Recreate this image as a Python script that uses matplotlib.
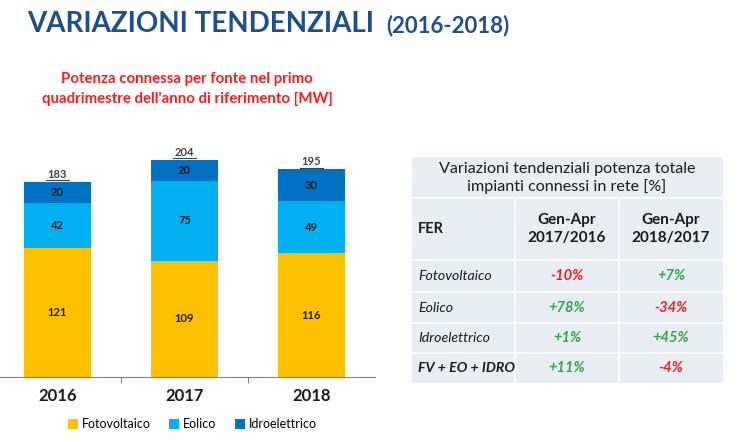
import matplotlib.pyplot as plt
from matplotlib.patches import Rectangle

plt.rcParams["font.family"] = ["Lato", "DejaVu Sans"]

years = ["2016", "2017", "2018"]
fotovoltaico = [121, 109, 116]
eolico = [42, 75, 49]
idroelettrico = [20, 20, 30]
totals = [183, 204, 195]

series_names = ["Fotovoltaico", "Eolico", "Idroelettrico"]
series_colors = ["#FFC000", "#00B0F0", "#0070C0"]

table_rows = ["Fotovoltaico", "Eolico", "Idroelettrico", "FV + EO + IDRO"]
var_2017_2016 = ["-10%", "+78%", "+1%", "+11%"]
var_2018_2017 = ["+7%", "-34%", "+45%", "-4%"]

W, H = 740, 442
fig = plt.figure(figsize=(W / 100, H / 100), dpi=100)
fig.patch.set_facecolor("white")


def fx(px):
    return px / W


def fy(py):
    return 1 - py / H


# titles
fig.text(fx(27), fy(24), "VARIAZIONI TENDENZIALI", fontsize=20, fontweight="bold",
         color="#1F4E8C", va="center", ha="left")
fig.text(fx(386), fy(26), "(2016-2018)", fontsize=16, fontweight="bold",
         color="#1F4E8C", va="center", ha="left")
fig.text(fx(187), fy(89), "Potenza connessa per fonte nel primo\nquadrimestre dell'anno di riferimento [MW]",
         fontsize=10.8, fontweight="bold", color="#FF1A1A", ha="center", va="center",
         linespacing=1.45)

# bar chart
ax = fig.add_axes([fx(-6), fy(377), fx(381), fy(140) - fy(377)])
x = list(range(len(years)))
bottom = [0, 0, 0]
for name, vals, col in zip(series_names, [fotovoltaico, eolico, idroelettrico], series_colors):
    ax.bar(x, vals, width=0.52, bottom=bottom, color=col, label=name)
    for i, v in enumerate(vals):
        ax.text(x[i], bottom[i] + v / 2, str(v), ha="center", va="center",
                fontsize=8, fontweight="bold", color="#1a1a1a")
    bottom = [b + v for b, v in zip(bottom, vals)]
for i, t in enumerate(totals):
    ax.text(x[i], t + 2, str(t), ha="center", va="bottom", fontsize=8,
            fontweight="bold", color="#404040")
    ax.plot([x[i] - 0.09, x[i] + 0.09], [t + 1.6, t + 1.6], color="#404040", lw=0.8)

ax.set_xlim(-0.5, 2.5)
ax.set_ylim(0, 222.5)
for s in ["top", "right", "left"]:
    ax.spines[s].set_visible(False)
ax.spines["bottom"].set_color("#808080")
ax.set_yticks([])
ax.set_xticks([0.5, 1.5], minor=False)
ax.set_xticklabels([])
ax.tick_params(axis="x", length=4, color="#808080", direction="out")
for i, y in enumerate(years):
    ax.text(x[i], -18, y, ha="center", va="center", fontsize=12, fontweight="bold",
            color="#1a1a1a")
ax.legend(loc="center", bbox_to_anchor=(fx(192) / fx(381) + 0.016, -0.2),
          ncol=3, frameon=False, fontsize=9, handlelength=0.8, handleheight=0.8,
          handletextpad=0.3, columnspacing=1.5)

# table
tab = fig.add_axes([0, 0, 1, 1])
tab.set_xlim(0, W)
tab.set_ylim(H, 0)
tab.axis("off")
bg = "#E9EDF4"
tab.add_patch(Rectangle((412, 157), 311, 226, facecolor=bg, edgecolor="none"))
for yy in [198, 260, 292, 323, 353]:
    tab.plot([412, 723], [yy, yy], color="white", lw=1.2)
for xx in [515, 619]:
    tab.plot([xx, xx], [198, 383], color="white", lw=1.2)

tab.text(567, 178, "Variazioni tendenziali potenza totale\nimpianti connessi in rete [%]",
         ha="center", va="center", fontsize=11.6, color="#1a1a1a", linespacing=1.3)
tab.text(418, 229, "FER", ha="left", va="center", fontsize=10.5, fontweight="bold",
         color="#1a1a1a")
tab.text(567, 229, "Gen-Apr\n2017/2016", ha="center", va="center", fontsize=11,
         fontweight="bold", color="#1a1a1a", linespacing=1.3)
tab.text(671, 229, "Gen-Apr\n2018/2017", ha="center", va="center", fontsize=11,
         fontweight="bold", color="#1a1a1a", linespacing=1.3)

row_centers = [276, 307.5, 338, 368]
for i, (name, a, b) in enumerate(zip(table_rows, var_2017_2016, var_2018_2017)):
    last = i == len(table_rows) - 1
    tab.text(418, row_centers[i], name, ha="left", va="center", fontsize=10.2,
             style="italic", fontweight="bold" if last else "normal", color="#1a1a1a")
    for cx, val in [(567, a), (671, b)]:
        col = "#FF1A1A" if val.startswith("-") else "#2CA646"
        tab.text(cx, row_centers[i], val, ha="center", va="center", fontsize=10.5,
                 style="italic", fontweight="bold", color=col)

fig.savefig("out.png", dpi=100, facecolor="white")
